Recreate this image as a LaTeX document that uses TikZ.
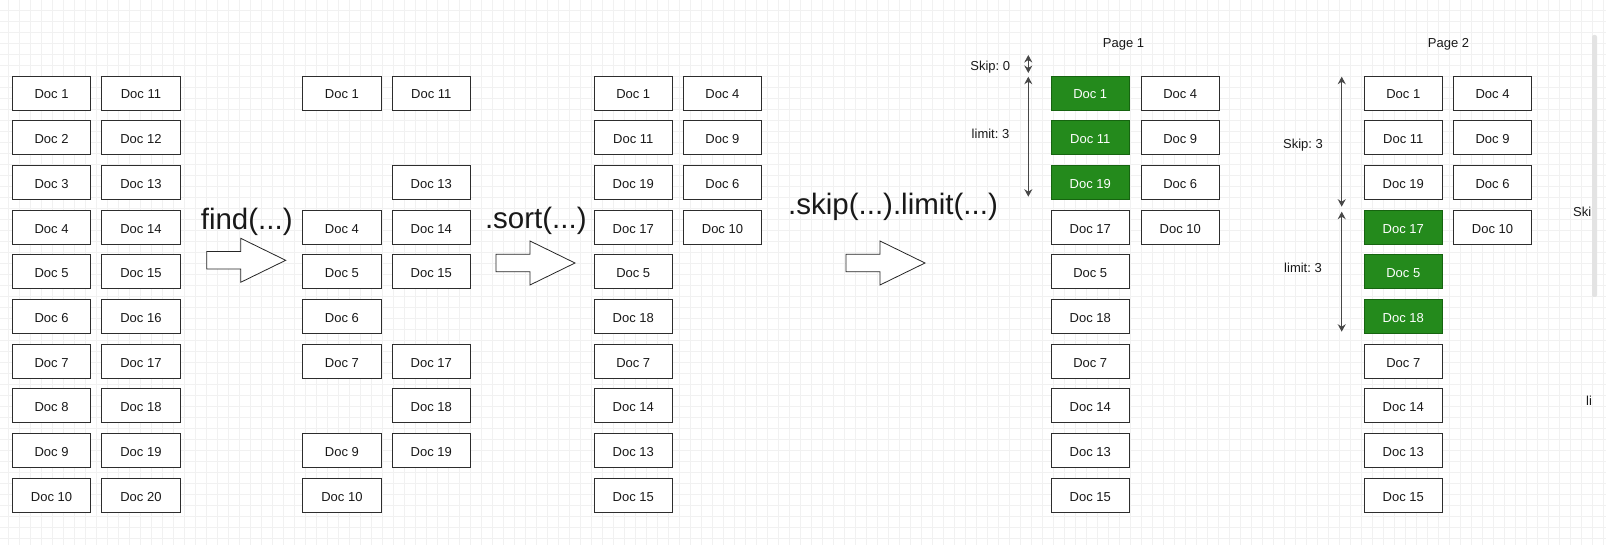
\documentclass[tikz,border=0pt]{standalone}
\usepackage{fontspec}
\setmainfont{Liberation Sans}
\usetikzlibrary{arrows.meta}
\frenchspacing
\definecolor{docgreen}{RGB}{36,138,28}
\definecolor{docgreenline}{RGB}{22,100,16}
\definecolor{gridminor}{RGB}{241,241,241}
\definecolor{boxline}{RGB}{45,45,45}
\definecolor{txt}{RGB}{25,25,25}
\tikzset{
  doc/.style={draw=boxline, line width=0.9pt, fill=white, minimum width=78.5pt, minimum height=34pt,
    inner sep=0pt, text height=11.9pt, text depth=0pt, font=\fontsize{13}{15}\selectfont, text=txt},
  docsel/.style={doc, fill=docgreen, draw=docgreenline, text=white},
  bigtxt/.style={font=\fontsize{29.5}{32}\selectfont, inner sep=0pt, text=txt},
  lbl/.style={font=\fontsize{13}{15}\selectfont, inner sep=0pt, text=txt},
  bigarrow/.style={draw=black!85, line width=0.8pt, fill=white},
  dim/.style={draw=black!72, line width=1.1pt,
    {Stealth[length=7.5pt,width=8pt,inset=2.5pt]}-{Stealth[length=7.5pt,width=8pt,inset=2.5pt]}},
  fatarrow/.pic={\draw[bigarrow] (0,-8.7) -- (34,-8.7) -- (34,-22) -- (79,0) -- (34,22) -- (34,8.7) -- (0,8.7) -- cycle;}
}
\begin{document}
\begin{tikzpicture}[x=1pt,y=-1pt]
\useasboundingbox (0,0) rectangle (1606,545);
\fill[white] (0,0) rectangle (1606,545);
% grid
\foreach \i in {0,...,145} \draw[gridminor, line width=0.6pt] ({8+11*\i},0) -- ({8+11*\i},545);
\foreach \j in {0,...,48} \draw[gridminor, line width=0.6pt] (0,{10+11*\j}) -- (1606,{10+11*\j});
% scrollbar
\fill[black!11, rounded corners=2pt] (1592,35) rectangle (1597,297);

% group 1
\foreach \t [count=\r from 0] in {1,...,10}
  \node[doc] (g1a\r) at (51.55,{93+44.7*\r}) {Doc \t};
\foreach \t [count=\r from 0] in {11,...,20}
  \node[doc] (g1b\r) at (140.95,{93+44.7*\r}) {Doc \t};

% group 2
\foreach \r/\t in {0/1,3/4,4/5,5/6,6/7,8/9,9/10}
  \node[doc] (g2a\r) at (341.95,{93+44.7*\r}) {Doc \t};
\foreach \r/\t in {0/11,2/13,3/14,4/15,6/17,7/18,8/19}
  \node[doc] (g2b\r) at (431.25,{93+44.7*\r}) {Doc \t};

% group 3
\foreach \t [count=\r from 0] in {1,11,19,17,5,18,7,14,13,15}
  \node[doc] (g3a\r) at (633.25,{93+44.7*\r}) {Doc \t};
\foreach \t [count=\r from 0] in {4,9,6,10}
  \node[doc] (g3b\r) at (722.45,{93+44.7*\r}) {Doc \t};

% group 4 (page 1)
\foreach \s/\t [count=\r from 0] in {docsel/1,docsel/11,docsel/19,doc/17,doc/5,doc/18,doc/7,doc/14,doc/13,doc/15}
  \node[\s] (g4a\r) at (1090.25,{93+44.7*\r}) {Doc \t};
\foreach \t [count=\r from 0] in {4,9,6,10}
  \node[doc] (g4b\r) at (1180.25,{93+44.7*\r}) {Doc \t};

% group 5 (page 2)
\foreach \s/\t [count=\r from 0] in {doc/1,doc/11,doc/19,docsel/17,docsel/5,docsel/18,doc/7,doc/14,doc/13,doc/15}
  \node[\s] (g5a\r) at (1403.25,{93+44.7*\r}) {Doc \t};
\foreach \t [count=\r from 0] in {4,9,6,10}
  \node[doc] (g5b\r) at (1492.55,{93+44.7*\r}) {Doc \t};

% operations
\node[bigtxt] (tfind) at (246.7,222) {find(...)};
\node[bigtxt] (tsort) at (535.8,221) {.sort(...)};
\node[bigtxt] (tskip) at (893,206.5) {.skip(...).limit(...)};
\pic at (206.7,260.3) {fatarrow};
\pic at (496,263) {fatarrow};
\pic at (846,263) {fatarrow};

% page labels
\node[lbl] (p1) at (1123.5,44.5) {Page 1};
\node[lbl] (p2) at (1448.5,44.3) {Page 2};

% page 1 dimensions
\coordinate (p1s0) at (1028.3,55);
\coordinate (p1s1) at (1028.3,73);
\coordinate (p1l0) at (1028.3,76.7);
\coordinate (p1l1) at (1028.3,196.7);
\draw[dim] (p1s0) -- (p1s1);
\draw[dim] (p1l0) -- (p1l1);
\node[lbl] (p1skip) at (990.3,66.7) {Skip: 0};
\node[lbl] (p1lim) at (990.5,134) {limit: 3};

% page 2 dimensions
\coordinate (p2s0) at (1341.7,76.7);
\coordinate (p2s1) at (1341.7,206.7);
\coordinate (p2l0) at (1341.7,211.7);
\coordinate (p2l1) at (1341.7,331.7);
\draw[dim] (p2s0) -- (p2s1);
\draw[dim] (p2l0) -- (p2l1);
\node[lbl] (p2skip) at (1303,145) {Skip: 3};
\node[lbl] (p2lim) at (1303,267.7) {limit: 3};

% clipped labels at right edge
\node[lbl, anchor=west] (p3skip) at (1573,211.7) {Ski};
\node[lbl, anchor=west] (p3lim) at (1586,401) {li};
\end{tikzpicture}
\end{document}
